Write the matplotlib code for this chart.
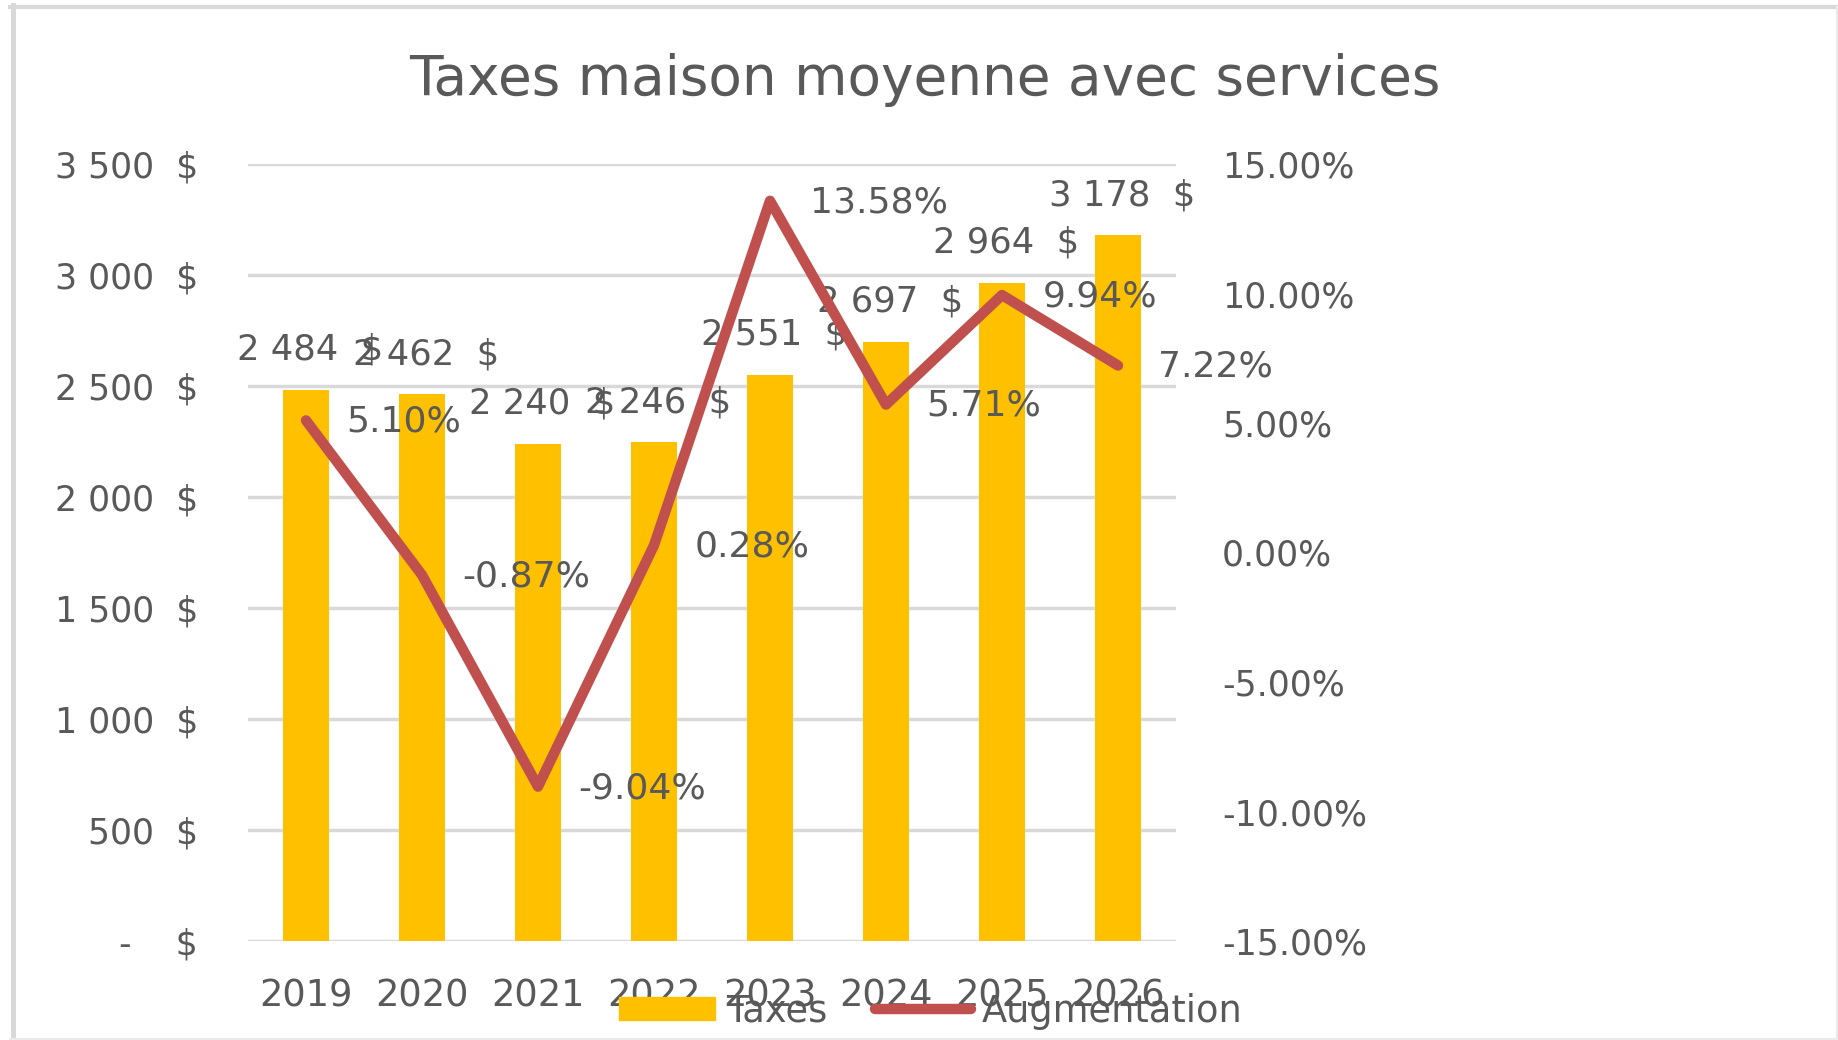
import matplotlib
matplotlib.use("Agg")
import matplotlib.pyplot as plt
from matplotlib.lines import Line2D
from matplotlib.patches import Patch
from matplotlib.ticker import FixedLocator

years = ["2019", "2020", "2021", "2022", "2023", "2024", "2025", "2026"]
taxes = [2484, 2462, 2240, 2246, 2551, 2697, 2964, 3178]
augmentation = [5.10, -0.87, -9.04, 0.28, 13.58, 5.71, 9.94, 7.22]
left_ticks = [0, 500, 1000, 1500, 2000, 2500, 3000, 3500]
right_ticks = [-15, -10, -5, 0, 5, 10, 15]
title = "Taxes maison moyenne avec services"

TXT = "#595959"
BAR = "#FFC000"
LINE = "#C0504D"
GRID = "#D9D9D9"

plt.rcParams['font.family'] = ['DejaVu Sans']

W, H = 1838, 1040
fig = plt.figure(figsize=(W / 100, H / 100), dpi=100)
fig.patch.set_facecolor("white")

# outer frame of the screenshot
fig.add_artist(Line2D([12.5 / W, 12.5 / W], [1 - 5 / H, 0], transform=fig.transFigure, color=GRID, lw=3.6))
fig.add_artist(Line2D([10 / W, 1], [1 - 7 / H, 1 - 7 / H], transform=fig.transFigure, color=GRID, lw=3.0))
fig.add_artist(Line2D([10 / W, 1], [1.5 / H, 1.5 / H], transform=fig.transFigure, color="#EBEBEB", lw=1.5))
fig.add_artist(Line2D([1 - 1.5 / W, 1 - 1.5 / W], [0, 1 - 7 / H], transform=fig.transFigure, color="#EBEBEB", lw=1.5))

ax_l, ax_r, ax_t, ax_b = 248, 1176, 164, 941
ax = fig.add_axes([ax_l / W, 1 - ax_b / H, (ax_r - ax_l) / W, (ax_b - ax_t) / H])
x = list(range(len(years)))

ax.bar(x, taxes, width=0.39, color=BAR, zorder=2)
ax.set_xlim(-0.5, len(years) - 0.5)
ax.set_ylim(0, 3500)
ax.yaxis.set_major_locator(FixedLocator(left_ticks))
ax.set_yticklabels([("-    $" if v == 0 else f"{v:,}  $".replace(",", " ")) for v in left_ticks])
ax.grid(axis="y", color=GRID, lw=2.5, zorder=0)
ax.set_axisbelow(True)
for s in ax.spines.values():
    s.set_visible(False)
ax.set_xticks(x)
ax.set_xticklabels(years)
ax.tick_params(axis="x", length=0, pad=26, labelsize=26.5, labelcolor=TXT)
ax.tick_params(axis="y", length=0, pad=36, labelsize=25, labelcolor=TXT)

for xi, v in zip(x, taxes):
    ax.annotate(f"{v:,}  $".replace(",", " "), (xi, v), xytext=(3, 29), textcoords="offset points",
                ha="center", va="center", fontsize=25.5, color=TXT, zorder=5)

ax2 = ax.twinx()
ax2.set_ylim(-15, 15)
ax2.yaxis.set_major_locator(FixedLocator(right_ticks))
ax2.set_yticklabels([f"{v:.2f}%" for v in right_ticks])
ax2.tick_params(axis="y", length=0, pad=33, labelsize=25, labelcolor=TXT)
for s in ax2.spines.values():
    s.set_visible(False)
ax2.plot(x, augmentation, color=LINE, lw=7.5, solid_capstyle="round", solid_joinstyle="round", zorder=3)
for xi, v in zip(x, augmentation):
    ax2.annotate(f"{v:.2f}%", (xi, v), xytext=(29, -1), textcoords="offset points",
                 ha="left", va="center", fontsize=26, color=TXT, zorder=5)

fig.text(925 / W, 1 - 80 / H, title, ha="center", va="center", fontsize=39.5, color=TXT)

handles = [Patch(facecolor=BAR, edgecolor=BAR),
           Line2D([0], [0], color=LINE, lw=7.5, solid_capstyle="round")]
leg = fig.legend(handles, ["Taxes", "Augmentation"], loc="center", bbox_to_anchor=(931 / W, 1 - 1011 / H),
                 ncol=2, frameon=False, fontsize=26.5, labelcolor=TXT, handlelength=2.6,
                 handleheight=0.6, handletextpad=0.3, columnspacing=1.3, borderpad=0)

fig.savefig("out.png", dpi=100, facecolor="white")
